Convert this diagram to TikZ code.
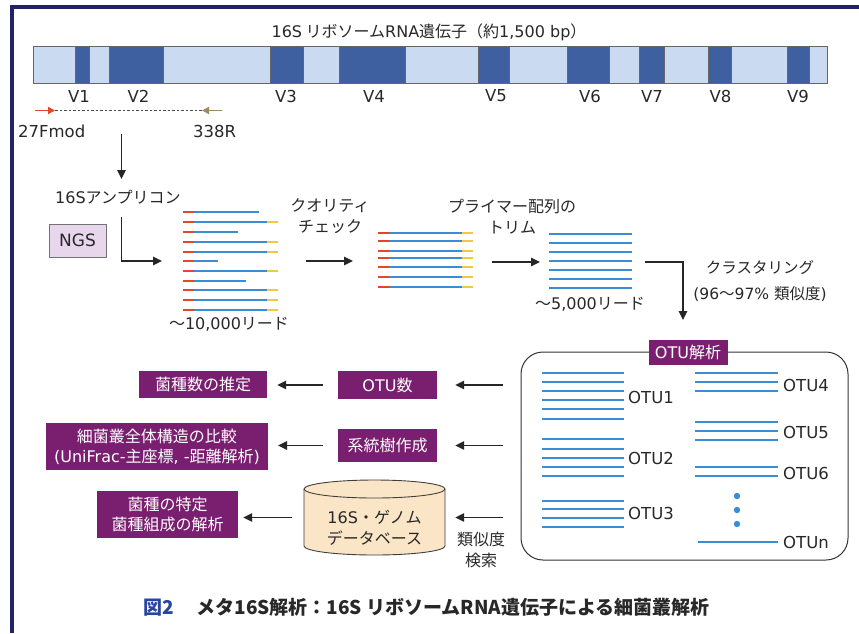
\documentclass[tikz,border=0pt]{standalone}
\usepackage{fontspec}
\usepackage{graphicx}
\setmainfont{Noto Sans CJK JP}
\newfontfamily\lat{DejaVu Sans}
\newcommand\la[1]{{\lat #1}}
\usetikzlibrary{arrows.meta}
\definecolor{framenavy}{RGB}{33,34,106}
\definecolor{barlight}{RGB}{202,219,241}
\definecolor{bardark}{RGB}{62,96,160}
\definecolor{readblue}{RGB}{58,140,212}
\definecolor{readred}{RGB}{232,68,44}
\definecolor{readyellow}{RGB}{240,200,70}
\definecolor{primerbrown}{RGB}{158,138,92}
\definecolor{boxpurple}{RGB}{122,31,112}
\definecolor{ngsfill}{RGB}{231,214,236}
\definecolor{dbfill}{RGB}{251,229,199}
\definecolor{txt}{RGB}{40,40,40}
\definecolor{figblue}{RGB}{40,70,160}
\begin{document}
\begin{tikzpicture}[x=1pt,y=-1pt,
  every node/.style={text=txt, inner sep=0pt},
  lbl/.style={font=\fontsize{16}{21}\selectfont, align=center},
  latl/.style={font=\lat\fontsize{16.5}{20}\selectfont},
  arr/.style={line width=1.5pt, draw=black!85, -{Triangle[length=9pt,width=8.5pt]}},
  pbox/.style={fill=boxpurple, text=white, font=\fontsize{16}{20}\selectfont, align=center},
  darkseg/.style={fill=bardark, draw=black!60, line width=0.6pt},
  rd/.style={line width=2.4pt, readred},
  rb/.style={line width=2.4pt, readblue},
  ry/.style={line width=2.4pt, readyellow},
  otul/.style={line width=2.2pt, readblue},
  otutxt/.style={font=\lat\fontsize{16.5}{18}\selectfont, anchor=west},
]
\useasboundingbox (0,0) rectangle (859,633);
\fill[white] (0,0) rectangle (859,633);
\fill[framenavy] (10,5) rectangle (859,9);
\fill[framenavy] (10,5) rectangle (14,633);

% gene bar
\node[lbl] (title) at (429,32) {\la{16S} リボソーム\la{RNA}遺伝子（約\la{1,500 bp}）};
\fill[barlight] (33,46) rectangle (827,83);
\foreach \a/\b in {75/89,109/163,270/303,339/405,478/509,567/609,639/664,708/731,787/809}
  \draw[darkseg] (\a,46) rectangle (\b,83);
\draw[black!60, line width=0.8pt] (33,46) rectangle (827,83);
\foreach \x/\t in {79/V1,138.5/V2,286/V3,374/V4,496/V5,590/V6,652/V7,720.5/V8,798/V9}
  \node[latl] (lab\t) at (\x,96) {\t};

% primers
\coordinate (f1) at (35,110.5); \coordinate (f2) at (55,110.5);
\coordinate (r1) at (222,110.5); \coordinate (r2) at (202,110.5);
\draw[black!70, line width=0.9pt, dash pattern=on 2.5pt off 2pt] (f2) -- (r2);
\draw[line width=1.8pt, readred, -{Triangle[length=7pt,width=7pt]}] (f1) -- (f2);
\draw[line width=1.8pt, primerbrown, -{Triangle[length=7pt,width=7pt]}] (r1) -- (r2);
\node[latl, anchor=west] (fmod) at (18,131) {27Fmod};
\node[latl] (r338) at (214.5,131) {338R};

\coordinate (d1) at (121.5,134); \coordinate (d2) at (121.5,179);
\draw[arr] (d1) -- (d2);
\node[lbl, anchor=west] (amp) at (55,197) {\la{16S}アンプリコン};
\node[draw=black!55, fill=ngsfill, line width=0.8pt, minimum width=57, minimum height=33, font=\lat\fontsize{17}{19}\selectfont] (ngs) at (77.5,240.5) {NGS};
\coordinate (l1) at (121.5,217); \coordinate (l2) at (162,261);
\draw[arr] (l1) |- (l2);

% reads group 1
\foreach \y/\e/\yy in {212/259/0,222/267/1,232/238/0,242/267/1,252/267/1,261/218/0,271/267/1,281/246/0,290/267/1,300/267/1,310/267/1}{
  \draw[rb] (194,\y) -- (\e,\y);
  \draw[rd] (183,\y) -- (194,\y);
  \ifnum\yy=1 \draw[ry] (267,\y) -- (278,\y); \fi
}
\node[lbl] (n10k) at (229,324) {〜\la{10,000}リード};

\coordinate (q1) at (306,261); \coordinate (q2) at (353,261);
\draw[arr] (q1) -- (q2);
\node[lbl] (qc) at (330,216) {クオリティ\\チェック};

% reads group 2
\foreach \y in {233,241,251,258,267,277,287}{
  \draw[rb] (389,\y) -- (462,\y);
  \draw[rd] (378,\y) -- (389,\y);
  \draw[ry] (462,\y) -- (473,\y);
}
\coordinate (t1) at (492,262); \coordinate (t2) at (540,262);
\draw[arr] (t1) -- (t2);
\node[lbl] (trim) at (512,217) {プライマー配列の\\トリム};

% reads group 3
\foreach \y in {234,243,252,261,270,279,288}
  \draw[rb] (549,\y) -- (632,\y);
\node[lbl] (n5k) at (590,304) {〜\la{5,000}リード};

\coordinate (c1) at (645,262); \coordinate (c2) at (683,320);
\draw[arr] (c1) -| (c2);
\node[lbl, font=\fontsize{15.5}{26}\selectfont] (clus) at (760,281) {クラスタリング\\\la{(96}〜\la{97\% }類似度\la{)}};

% OTU box
\node[draw=black!80, line width=1pt, rounded corners=22pt, minimum width=327, minimum height=208] (otubox) at (684.5,456) {};
\node[pbox, minimum width=79, minimum height=25] (otulab) at (688,352) {\la{OTU}解析};
\foreach \y in {373,382,391,400,409,419,439,449,458,467,476,501,509,518,527}
  \draw[otul] (542,\y) -- (624,\y);
\foreach \y in {373,382,391,422,431,440,467,476}
  \draw[otul] (695,\y) -- (778,\y);
\draw[otul] (698,542) -- (778,542);
\foreach \y in {496,510,524}
  \fill[readblue] (737,\y) circle (3.2);
\node[otutxt] (o1) at (628,397) {OTU1};
\node[otutxt] (o2) at (628,458) {OTU2};
\node[otutxt] (o3) at (628,513) {OTU3};
\node[otutxt] (o4) at (783,385) {OTU4};
\node[otutxt] (o5) at (783,432) {OTU5};
\node[otutxt] (o6) at (783,473) {OTU6};
\node[otutxt] (on) at (783,542) {OTUn};

% middle column
\node[pbox, minimum width=99, minimum height=28] (otunum) at (387.5,385) {\la{OTU}数};
\node[pbox, minimum width=99, minimum height=33] (tree) at (387.5,445.5) {系統樹作成};
\node[minimum width=141, minimum height=75] (db) at (374.5,517.5) {};
\fill[dbfill] (304,489) -- (304,546) arc[start angle=180, end angle=0, x radius=70.5, y radius=9] -- (445,489) -- cycle;
\draw[black!75, line width=0.9pt] (304,489) -- (304,546) arc[start angle=180, end angle=0, x radius=70.5, y radius=9] -- (445,489);
\draw[black!75, line width=0.9pt, fill=dbfill] (374.5,489) ellipse[x radius=70.5, y radius=9];
\node[lbl] (dbtxt) at (374.5,527.5) {\la{16S}・ゲノム\\データベース};

% left column
\node[pbox, minimum width=128, minimum height=27] (est) at (203,384.5) {菌種数の推定};
\node[pbox, anchor=east, inner xsep=8pt, minimum height=47] (comp) at (268,446.5) {細菌叢全体構造の比較\\\la{(UniFrac-}主座標\la{, -}距離解析\la{)}};
\node[pbox, minimum width=141, minimum height=47] (ident) at (167.5,514.5) {菌種の特定\\菌種組成の解析};

% arrows from OTU box
\draw[arr, shorten <=18pt, shorten >=18pt] (otubox.west |- otunum.east) -- (otunum.east);
\draw[arr, shorten <=18pt, shorten >=18pt] (otubox.west |- tree.east) -- (tree.east);
\draw[arr, shorten <=18pt, shorten >=10pt] (otubox.west |- db.east) -- (db.east);
\node[lbl] (sim) at (481,550) {類似度\\検索};

\draw[arr, shorten <=15pt, shorten >=10pt] (otunum.west) -- (otunum.west -| est.east);
\draw[arr, shorten <=15pt, shorten >=10pt] (tree.west) -- (tree.west -| comp.east);
\draw[arr, shorten <=12pt, shorten >=5pt] (db.west) -- (db.west -| ident.east);

% caption
\node[anchor=west, font=\bfseries\fontsize{19}{22}\selectfont] (cap) at (143,607) {\textcolor{figblue}{図2}\hspace{1.2em}メタ16S解析：16S リボソームRNA遺伝子による細菌叢解析};
\end{tikzpicture}
\end{document}
